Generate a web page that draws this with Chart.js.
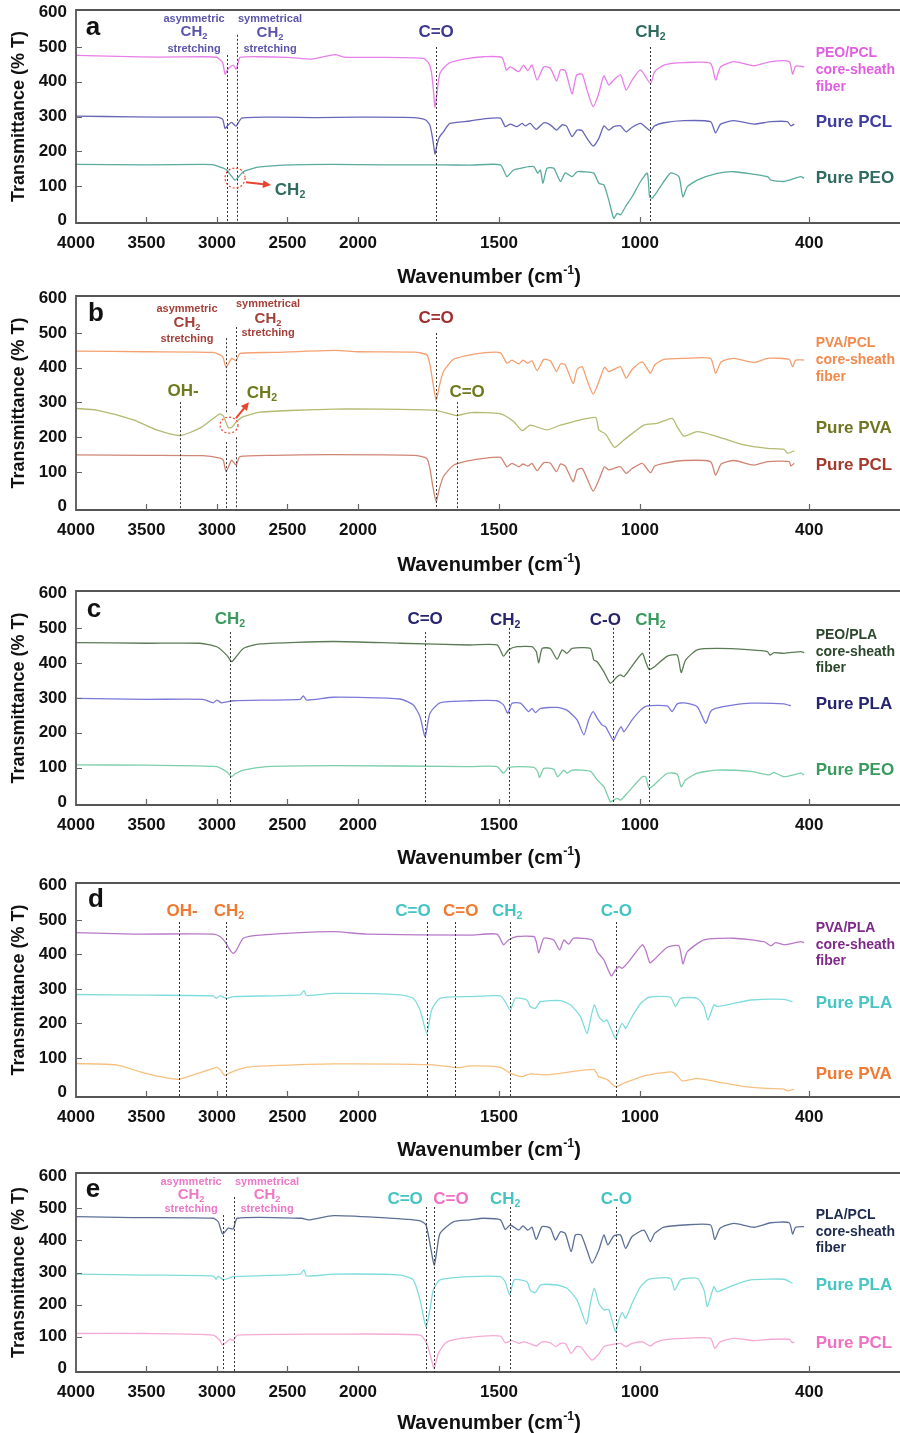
<!DOCTYPE html>
<html lang="en">
<head>
<meta charset="UTF-8" />
<title>FTIR spectra of core-sheath fibers</title>
<script src="https://cdn.jsdelivr.net/npm/chart.js"></script>
<style>
  body { margin: 0; background: #fff; }
  #wrap { position: relative; width: 900px; height: 1433px; }
  #wrap canvas { position: absolute; left: 0; }
</style>
</head>
<body>
<div id="wrap">
  <canvas id="panelA" width="900" height="295" style="top:0px"></canvas>
  <canvas id="panelB" width="900" height="295" style="top:286px"></canvas>
  <canvas id="panelC" width="900" height="295" style="top:581px"></canvas>
  <canvas id="panelD" width="900" height="295" style="top:873px"></canvas>
  <canvas id="panelE" width="900" height="270" style="top:1163px"></canvas>
</div>
<script>
// axis ticks
const xTickValues = [4000, 3500, 3000, 2500, 2000, 1500, 1000, 400];
const yTickValues = [0, 100, 200, 300, 400, 500, 600];

// spectra: [wavenumber (cm-1), transmittance (offset, % T)]
// panel a
const aPeoPcl = [[4000,476],[3700,473],[3400,471],[3100,472],[3000,470],[2960,455],[2943,422],[2920,438],[2884,448],[2865,436],[2850,455],[2837,470],[2700,472],[2500,470],[2330,465],[2290,468],[2163,478],[2100,471],[1900,470],[1800,469],[1768,467],[1750,455],[1740,430],[1733,380],[1727,327],[1721,360],[1715,400],[1709,425],[1697,439],[1674,455],[1620,466],[1555,472],[1490,470],[1474,434],[1460,443],[1430,429],[1413,448],[1398,432],[1383,448],[1365,405],[1341,443],[1318,439],[1296,402],[1282,434],[1265,432],[1241,365],[1225,419],[1205,422],[1188,376],[1166,328],[1146,367],[1128,417],[1111,391],[1093,405],[1069,420],[1049,376],[1028,405],[998,434],[963,395],[948,429],[915,448],[844,455],[750,453],[732,405],[714,443],[667,458],[596,446],[536,458],[471,458],[459,422],[448,445],[418,443]];
const aPcl = [[4000,301],[3600,299],[3200,298],[3000,298],[2960,292],[2943,266],[2920,276],[2896,283],[2865,272],[2825,295],[2600,298],[2300,297],[2000,298],[1800,297],[1760,290],[1745,275],[1735,235],[1727,192],[1721,215],[1712,240],[1697,256],[1674,280],[1603,287],[1555,293],[1495,295],[1478,271],[1460,278],[1436,271],[1418,280],[1407,273],[1389,280],[1368,263],[1341,282],[1318,276],[1296,261],[1276,276],[1261,273],[1241,242],[1223,261],[1205,259],[1188,237],[1166,215],[1146,237],[1128,273],[1111,261],[1093,271],[1069,273],[1049,256],[1028,269],[998,280],[963,259],[948,273],[915,282],[844,288],[750,285],[732,253],[714,278],[667,288],[596,278],[536,285],[477,285],[465,273],[453,278]];
const aPeo = [[4000,162],[3500,161],[3100,162],[3026,161],[2960,152],[2931,146],[2900,130],[2872,117],[2850,125],[2813,141],[2750,150],[2695,155],[2530,160],[2200,162],[1900,161],[1700,161],[1603,160],[1495,161],[1472,127],[1448,146],[1377,156],[1363,137],[1353,146],[1344,108],[1330,151],[1306,151],[1282,113],[1265,138],[1241,127],[1223,141],[1199,141],[1164,137],[1146,108],[1128,103],[1111,60],[1093,7],[1081,21],[1069,17],[1051,41],[1028,69],[998,113],[974,137],[966,69],[957,65],[939,84],[892,137],[862,127],[848,69],[832,98],[797,117],[726,136],[667,141],[548,127],[536,117],[489,113],[471,117],[430,127],[418,122]];

// panel b
const bPvaPcl = [[4000,448],[3500,446],[3026,444],[2960,432],[2936,401],[2896,427],[2865,420],[2837,441],[2600,444],[2163,450],[2000,446],[1800,445],[1756,437],[1745,410],[1735,360],[1723,307],[1712,345],[1697,389],[1660,425],[1603,437],[1555,443],[1495,443],[1472,413],[1454,422],[1430,411],[1415,422],[1398,413],[1383,420],[1365,392],[1341,424],[1318,420],[1296,389],[1282,411],[1265,408],[1237,355],[1223,395],[1205,403],[1188,365],[1166,324],[1146,360],[1126,401],[1111,389],[1093,395],[1069,403],[1049,370],[1028,395],[992,417],[963,384],[948,408],[915,424],[844,427],[750,427],[732,384],[712,417],[667,427],[596,415],[548,427],[471,424],[459,403],[448,422],[418,422]];
const bPva = [[4000,283],[3853,278],[3593,250],[3428,221],[3262,205],[3121,226],[3026,254],[2979,267],[2955,261],[2920,228],[2896,228],[2861,245],[2813,259],[2695,272],[2175,281],[1733,278],[1674,267],[1649,262],[1602,271],[1495,267],[1448,245],[1418,219],[1389,235],[1330,221],[1282,235],[1158,257],[1146,221],[1122,209],[1090,171],[1057,192],[986,235],[939,240],[886,254],[868,230],[844,203],[797,216],[726,202],[631,178],[548,168],[489,165],[477,154],[453,161]];
const bPcl = [[4000,149],[3500,148],[3100,147],[2979,140],[2955,134],[2936,101],[2896,134],[2865,120],[2837,144],[2600,148],[2200,150],[1800,148],[1756,139],[1745,110],[1735,60],[1723,15],[1712,50],[1697,87],[1660,120],[1603,133],[1555,139],[1495,142],[1472,115],[1454,125],[1430,115],[1415,123],[1398,117],[1383,125],[1365,104],[1341,127],[1318,125],[1296,101],[1282,123],[1265,117],[1237,72],[1223,106],[1205,110],[1188,82],[1166,45],[1146,77],[1126,115],[1111,106],[1093,110],[1069,115],[1049,96],[1028,110],[992,125],[963,98],[948,117],[915,125],[844,133],[750,130],[732,91],[712,123],[667,133],[596,120],[548,130],[471,130],[465,117],[453,125]];

// panel c
const cPeoPla = [[4000,459],[3500,457],[3121,457],[3002,447],[2931,423],[2896,404],[2872,414],[2813,442],[2695,455],[2175,462],[1851,457],[1603,452],[1507,452],[1484,420],[1466,438],[1436,447],[1383,447],[1368,433],[1359,401],[1347,442],[1318,442],[1294,411],[1276,438],[1259,428],[1241,442],[1176,442],[1164,409],[1152,404],[1128,375],[1105,342],[1081,361],[1069,366],[1057,361],[1034,385],[992,428],[980,404],[968,382],[951,388],[903,420],[868,423],[854,373],[838,409],[797,438],[726,442],[607,438],[548,433],[539,423],[525,430],[489,428],[430,433],[418,430]];
const cPla = [[4000,299],[3500,296],[3100,296],[3026,286],[3002,294],[2967,286],[2884,292],[2411,296],[2388,306],[2364,294],[2175,302],[1851,297],[1804,280],[1780,246],[1762,189],[1745,256],[1709,286],[1603,292],[1507,292],[1484,280],[1469,256],[1454,285],[1424,285],[1395,261],[1383,270],[1371,258],[1353,270],[1294,273],[1259,265],[1223,237],[1199,194],[1182,237],[1166,261],[1152,242],[1134,222],[1122,218],[1095,179],[1081,199],[1067,218],[1057,203],[1028,237],[998,265],[974,277],[903,277],[886,261],[868,283],[844,286],[797,275],[767,227],[750,261],[732,270],[667,280],[607,285],[489,283],[465,277]];
const cPeo = [[4000,108],[3500,107],[3002,103],[2931,88],[2896,74],[2872,82],[2813,93],[2648,103],[2175,106],[1603,103],[1507,103],[1484,84],[1466,101],[1377,101],[1363,89],[1356,72],[1341,98],[1306,95],[1292,74],[1270,93],[1259,84],[1241,93],[1176,89],[1152,65],[1128,45],[1105,2],[1093,7],[1081,12],[1069,7],[1046,26],[992,74],[980,74],[968,41],[951,50],[903,84],[868,81],[854,45],[838,65],[797,84],[726,93],[607,89],[542,79],[525,86],[489,74],[430,84],[418,79]];

// panel d
const dPvaPla = [[4000,463],[3593,459],[3026,459],[2979,452],[2943,437],[2908,413],[2884,403],[2861,413],[2813,447],[2695,456],[2175,466],[1970,459],[1603,456],[1507,459],[1484,428],[1466,442],[1436,452],[1377,452],[1368,437],[1359,405],[1341,447],[1306,442],[1285,413],[1270,442],[1253,430],[1235,447],[1170,442],[1152,408],[1128,384],[1102,338],[1087,355],[1075,365],[1063,360],[1040,379],[992,428],[980,413],[965,376],[951,384],[903,421],[862,425],[848,373],[832,408],[773,442],[667,447],[560,437],[536,425],[519,434],[489,428],[430,437],[418,434]];
const dPla = [[4000,284],[3500,282],[3026,280],[3002,273],[2979,280],[2931,273],[2884,278],[2411,283],[2383,295],[2364,281],[2175,287],[1851,283],[1804,273],[1780,239],[1756,171],[1739,239],[1709,273],[1603,278],[1495,280],[1478,263],[1460,239],[1442,273],[1401,268],[1389,249],[1371,244],[1353,263],[1282,266],[1247,254],[1211,220],[1188,171],[1176,210],[1162,254],[1146,220],[1128,205],[1117,210],[1087,157],[1075,181],[1063,200],[1051,186],[1028,220],[998,258],[968,276],[892,276],[874,249],[856,273],[797,273],[773,249],[759,210],[738,254],[726,249],[667,258],[607,268],[489,270],[459,263]];
const dPva = [[4000,84],[3712,80],[3546,60],[3404,46],[3274,38],[3168,51],[3026,70],[3002,73],[2979,67],[2943,49],[2908,57],[2861,65],[2790,73],[2648,77],[2175,83],[1733,80],[1662,73],[1638,72],[1603,77],[1495,73],[1460,56],[1418,46],[1389,54],[1330,51],[1164,67],[1146,46],[1117,38],[1087,17],[1057,27],[986,48],[892,60],[874,54],[850,34],[797,41],[726,31],[631,17],[548,12],[489,10],[477,5],[453,10]];

// panel e
const ePlaPcl = [[4000,474],[3593,471],[3026,469],[2991,458],[2960,420],[2920,438],[2884,436],[2856,469],[2400,469],[2341,464],[2175,477],[1900,470],[1780,461],[1759,448],[1745,391],[1730,323],[1720,370],[1709,422],[1662,458],[1603,464],[1555,469],[1495,464],[1478,434],[1460,448],[1430,432],[1415,445],[1398,432],[1383,441],[1368,403],[1347,443],[1318,438],[1300,401],[1282,427],[1265,422],[1244,365],[1229,417],[1209,417],[1188,370],[1170,329],[1146,370],[1128,417],[1114,386],[1093,414],[1069,417],[1051,375],[1028,412],[986,432],[963,396],[948,422],[915,441],[844,448],[750,448],[735,403],[716,438],[667,453],[596,441],[536,455],[471,455],[459,420],[448,441],[418,443]];
const ePla = [[4000,295],[3500,292],[3026,289],[3007,279],[2991,289],[2955,277],[2884,287],[2411,295],[2383,308],[2364,289],[2175,295],[1851,292],[1804,277],[1780,214],[1759,131],[1745,183],[1733,245],[1709,277],[1603,287],[1495,287],[1478,271],[1462,230],[1446,277],[1401,271],[1389,245],[1371,237],[1353,261],[1294,261],[1259,251],[1223,214],[1190,140],[1176,204],[1162,251],[1146,204],[1128,183],[1111,185],[1087,116],[1075,152],[1063,175],[1051,157],[1028,204],[998,256],[968,279],[892,282],[877,245],[856,277],[797,282],[773,245],[761,194],[738,256],[726,240],[667,261],[607,277],[489,279],[459,266]];
const ePcl = [[4000,110],[3500,110],[3026,105],[2979,88],[2960,74],[2908,92],[2884,88],[2856,105],[2175,108],[1780,105],[1756,79],[1739,27],[1730,1],[1715,48],[1685,84],[1603,98],[1495,102],[1478,81],[1454,88],[1430,79],[1415,84],[1398,81],[1368,71],[1347,84],[1318,81],[1300,69],[1282,79],[1265,79],[1244,48],[1225,69],[1209,67],[1188,43],[1170,27],[1146,46],[1128,69],[1111,74],[1069,79],[1051,69],[1028,79],[992,84],[963,71],[948,81],[915,90],[844,95],[750,95],[735,64],[716,84],[667,95],[596,88],[536,92],[471,92],[459,81],[453,84]];

const FONT = '"Liberation Sans", Arial, Helvetica, sans-serif';
Chart.defaults.font.family = FONT;

// wavenumber axis, expanded 2x below 2000 cm-1
const BREAK_WN = 2000;
const EXPAND = 2;
const X_MIN = 78;

class BrokenWaveScale extends Chart.LinearScale {
  _pos(v) {
    return v >= BREAK_WN ? this.max - v : (this.max - BREAK_WN) + EXPAND * (BREAK_WN - v);
  }
  getPixelForValue(v) {
    return this.left + this.width * this._pos(v) / this._pos(this.min);
  }
  getValueForPixel(px) {
    const u = (px - this.left) / this.width * this._pos(this.min);
    const upper = this.max - BREAK_WN;
    return u <= upper ? this.max - u : BREAK_WN - (u - upper) / EXPAND;
  }
}
BrokenWaveScale.id = 'brokenWave';
BrokenWaveScale.defaults = Chart.LinearScale.defaults;
Chart.register(BrokenWaveScale);

// text with _x subscript and ^{..} superscript
function drawRich(ctx, text, x, y, size, color, align) {
  const segs = [];
  let buf = '', i = 0;
  while (i < text.length) {
    const c = text[i];
    if (c === '_') {
      if (buf) segs.push({ t: buf, k: 0 });
      buf = '';
      segs.push({ t: text[i + 1], k: -1 });
      i += 2;
      continue;
    }
    if (c === '^' && text[i + 1] === '{') {
      if (buf) segs.push({ t: buf, k: 0 });
      buf = '';
      const j = text.indexOf('}', i);
      segs.push({ t: text.slice(i + 2, j), k: 1 });
      i = j + 1;
      continue;
    }
    buf += c;
    i++;
  }
  if (buf) segs.push({ t: buf, k: 0 });
  let w = 0;
  segs.forEach(s => {
    s.fs = s.k ? size * 0.62 : size;
    ctx.font = `bold ${s.fs}px ${FONT}`;
    s.w = ctx.measureText(s.t).width;
    w += s.w;
  });
  let cx = align === 'left' ? x : align === 'right' ? x - w : x - w / 2;
  ctx.fillStyle = color;
  ctx.textAlign = 'left';
  ctx.textBaseline = 'middle';
  segs.forEach(s => {
    ctx.font = `bold ${s.fs}px ${FONT}`;
    const dy = s.k === -1 ? size * 0.3 : s.k === 1 ? -size * 0.32 : 0;
    ctx.fillText(s.t, cx, y + dy);
    cx += s.w;
  });
}

function annotPlugin(p) {
  return {
    id: 'annot' + p.canvas,
    afterDraw(chart) {
      const ctx = chart.ctx, xs = chart.scales.x, ys = chart.scales.y, area = chart.chartArea;
      ctx.save();
      // frame
      ctx.strokeStyle = '#555';
      ctx.lineWidth = 1.8;
      ctx.beginPath();
      ctx.moveTo(area.right, area.top);
      ctx.lineTo(area.left, area.top);
      ctx.lineTo(area.left, area.bottom);
      ctx.lineTo(area.right, area.bottom);
      ctx.stroke();
      // inward tick marks
      ctx.lineWidth = 1.2;
      ctx.strokeStyle = '#666';
      ctx.beginPath();
      xTickValues.slice(1).forEach(v => {
        const x = Math.round(xs.getPixelForValue(v)) + 0.5;
        ctx.moveTo(x, area.bottom);
        ctx.lineTo(x, area.bottom - 6);
      });
      yTickValues.slice(1, -1).forEach(v => {
        const y = Math.round(ys.getPixelForValue(v)) + 0.5;
        ctx.moveTo(area.left, y);
        ctx.lineTo(area.left + 6, y);
      });
      ctx.stroke();
      // dotted marker lines
      ctx.setLineDash([2, 2]);
      ctx.lineWidth = 1;
      ctx.strokeStyle = '#333';
      p.marks.forEach(m => {
        const x = Math.round(xs.getPixelForValue(m.wn)) + 0.5;
        ctx.beginPath();
        ctx.moveTo(x, ys.getPixelForValue(m.from));
        ctx.lineTo(x, m.to == null ? area.bottom : ys.getPixelForValue(m.to));
        ctx.stroke();
      });
      // red circles
      ctx.strokeStyle = '#e8452f';
      ctx.lineWidth = 1.2;
      (p.circles || []).forEach(c => {
        ctx.beginPath();
        ctx.ellipse(xs.getPixelForValue(c.wn), ys.getPixelForValue(c.t), c.rx, c.ry, 0, 0, Math.PI * 2);
        ctx.stroke();
      });
      ctx.setLineDash([]);
      // red arrows
      (p.arrows || []).forEach(a => {
        const x0 = xs.getPixelForValue(a.from[0]), y0 = ys.getPixelForValue(a.from[1]);
        const x1 = xs.getPixelForValue(a.to[0]), y1 = ys.getPixelForValue(a.to[1]);
        const ang = Math.atan2(y1 - y0, x1 - x0);
        ctx.strokeStyle = '#e8452f';
        ctx.fillStyle = '#e8452f';
        ctx.lineWidth = 2;
        ctx.beginPath();
        ctx.moveTo(x0, y0);
        ctx.lineTo(x1 - 5 * Math.cos(ang), y1 - 5 * Math.sin(ang));
        ctx.stroke();
        ctx.beginPath();
        ctx.moveTo(x1, y1);
        ctx.lineTo(x1 - 9 * Math.cos(ang - 0.45), y1 - 9 * Math.sin(ang - 0.45));
        ctx.lineTo(x1 - 9 * Math.cos(ang + 0.45), y1 - 9 * Math.sin(ang + 0.45));
        ctx.closePath();
        ctx.fill();
      });
      // texts
      p.texts.forEach(t => {
        drawRich(ctx, t.text, xs.getPixelForValue(t.wn), ys.getPixelForValue(t.t), t.size, t.color, t.align || 'center');
      });
      // x axis title
      drawRich(ctx, 'Wavenumber (cm^{-1})', 489, area.bottom + p.titleGap, 20, '#111', 'center');
      ctx.restore();
    }
  };
}

function makePanel(p) {
  const canvas = document.getElementById(p.canvas);
  const bottomSpace = canvas.height - 10 - p.plotH;
  new Chart(canvas, {
    type: 'line',
    data: {
      datasets: p.series.map(s => ({
        data: s.points.map(pt => ({ x: pt[0], y: pt[1] })),
        borderColor: s.color,
        borderWidth: 1.3,
        pointRadius: 0,
        tension: 0.2,
        fill: false
      }))
    },
    options: {
      responsive: false,
      animation: false,
      events: [],
      layout: { padding: { top: 10, left: 0, right: 0, bottom: 0 } },
      plugins: { legend: { display: false }, tooltip: { enabled: false } },
      scales: {
        x: {
          type: 'brokenWave',
          min: X_MIN,
          max: 4000,
          grid: { display: false, drawTicks: false },
          border: { display: false },
          afterBuildTicks: s => { s.ticks = xTickValues.map(v => ({ value: v })); },
          afterFit: s => { s.height = bottomSpace; s.paddingLeft = 0; s.paddingRight = 0; },
          ticks: {
            autoSkip: false, maxRotation: 0, padding: 10, color: '#111',
            font: { size: 17, weight: 'bold' },
            callback: v => String(v)
          }
        },
        y: {
          min: p.yMin,
          max: p.yMax,
          grid: { display: false, drawTicks: false },
          border: { display: false },
          afterBuildTicks: s => { s.ticks = yTickValues.map(v => ({ value: v })); },
          afterFit: s => { s.width = 76; s.paddingTop = 0; s.paddingBottom = 0; },
          ticks: { padding: 9, color: '#111', font: { size: 17, weight: 'bold' } },
          title: {
            display: true, text: 'Transmittance (% T)', color: '#111',
            padding: { top: 8, bottom: 0 },
            font: { size: 18, weight: 'bold' }
          }
        }
      }
    },
    plugins: [annotPlugin(p)]
  });
}

const R = 377; // left edge of the right-hand sample labels
const panels = [
  {
    canvas: 'panelA', plotH: 213, yMin: -6.5, yMax: 606.5, titleGap: 54,
    series: [
      { points: aPeoPcl, color: '#e87ee8' },
      { points: aPcl, color: '#6767b9' },
      { points: aPeo, color: '#5aab9e' }
    ],
    marks: [{ wn: 2929, from: 477 }, { wn: 2858, from: 535 }, { wn: 1723, from: 500 }, { wn: 963, from: 500 }],
    circles: [{ wn: 2872, t: 123, rx: 10, ry: 10 }],
    arrows: [{ from: [2794, 111], to: [2617, 103] }],
    texts: [
      { wn: 3879, t: 556, text: 'a', color: '#111', size: 26 },
      { wn: 3163, t: 580, text: 'asymmetric', color: '#5a55aa', size: 11 },
      { wn: 3163, t: 543, text: 'CH_2', color: '#5a55aa', size: 15 },
      { wn: 3163, t: 494, text: 'stretching', color: '#5a55aa', size: 11 },
      { wn: 2624, t: 580, text: 'symmetrical', color: '#5a55aa', size: 11 },
      { wn: 2624, t: 540, text: 'CH_2', color: '#5a55aa', size: 15 },
      { wn: 2624, t: 494, text: 'stretching', color: '#5a55aa', size: 11 },
      { wn: 1723, t: 543, text: 'C=O', color: '#3d3a8e', size: 17 },
      { wn: 963, t: 543, text: 'CH_2', color: '#2f6b60', size: 17 },
      { wn: 2482, t: 88, text: 'CH_2', color: '#2f6b60', size: 17 },
      { wn: R, t: 483, text: 'PEO/PCL', color: '#e15fe0', size: 14, align: 'left' },
      { wn: R, t: 434, text: 'core-sheath', color: '#e15fe0', size: 14, align: 'left' },
      { wn: R, t: 385, text: 'fiber', color: '#e15fe0', size: 14, align: 'left' },
      { wn: R, t: 284, text: 'Pure PCL', color: '#3e3c9c', size: 17, align: 'left' },
      { wn: R, t: 123, text: 'Pure PEO', color: '#2f6b60', size: 17, align: 'left' }
    ]
  },
  {
    canvas: 'panelB', plotH: 214, yMin: -9.4, yMax: 606.4, titleGap: 55,
    series: [
      { points: bPvaPcl, color: '#f4a070' },
      { points: bPva, color: '#b4ba70' },
      { points: bPcl, color: '#d08575' }
    ],
    marks: [
      { wn: 2936, from: 485, to: 272 }, { wn: 2936, from: 186 },
      { wn: 2865, from: 517, to: 287 }, { wn: 2865, from: 200 },
      { wn: 1723, from: 500 }, { wn: 3262, from: 301 }, { wn: 1648, from: 301 }
    ],
    circles: [{ wn: 2915, t: 235, rx: 9, ry: 8 }],
    arrows: [{ from: [2865, 255], to: [2773, 301] }],
    texts: [
      { wn: 3858, t: 555, text: 'b', color: '#111', size: 26 },
      { wn: 3213, t: 568, text: 'asymmetric', color: '#a3403a', size: 11 },
      { wn: 3213, t: 528, text: 'CH_2', color: '#a3403a', size: 15 },
      { wn: 3213, t: 482, text: 'stretching', color: '#a3403a', size: 11 },
      { wn: 2638, t: 583, text: 'symmetrical', color: '#a3403a', size: 11 },
      { wn: 2638, t: 540, text: 'CH_2', color: '#a3403a', size: 15 },
      { wn: 2638, t: 500, text: 'stretching', color: '#a3403a', size: 11 },
      { wn: 1723, t: 543, text: 'C=O', color: '#a03030', size: 17 },
      { wn: 3241, t: 333, text: 'OH-', color: '#6f7a1e', size: 17 },
      { wn: 2681, t: 327, text: 'CH_2', color: '#6f7a1e', size: 17 },
      { wn: 1613, t: 330, text: 'C=O', color: '#6f7a1e', size: 17 },
      { wn: R, t: 470, text: 'PVA/PCL', color: '#f28a4e', size: 14, align: 'left' },
      { wn: R, t: 422, text: 'core-sheath', color: '#f28a4e', size: 14, align: 'left' },
      { wn: R, t: 373, text: 'fiber', color: '#f28a4e', size: 14, align: 'left' },
      { wn: R, t: 226, text: 'Pure PVA', color: '#6f7520', size: 17, align: 'left' },
      { wn: R, t: 120, text: 'Pure PCL', color: '#a33a2e', size: 17, align: 'left' }
    ]
  },
  {
    canvas: 'panelC', plotH: 214, yMin: -7.2, yMax: 606.9, titleGap: 53,
    series: [
      { points: cPeoPla, color: '#5b7b55' },
      { points: cPla, color: '#7a78d8' },
      { points: cPeo, color: '#7ccfa8' }
    ],
    marks: [{ wn: 2908, from: 489 }, { wn: 1762, from: 489 }, { wn: 1464, from: 501 }, { wn: 1094, from: 501 }, { wn: 967, from: 501 }],
    texts: [
      { wn: 3872, t: 554, text: 'c', color: '#111', size: 26 },
      { wn: 2908, t: 527, text: 'CH_2', color: '#3a9a5e', size: 17 },
      { wn: 1762, t: 527, text: 'C=O', color: '#26256e', size: 17 },
      { wn: 1478, t: 524, text: 'CH_2', color: '#26256e', size: 17 },
      { wn: 1123, t: 524, text: 'C-O', color: '#26256e', size: 17 },
      { wn: 963, t: 524, text: 'CH_2', color: '#3a9a5e', size: 17 },
      { wn: R, t: 481, text: 'PEO/PLA', color: '#2c472c', size: 14, align: 'left' },
      { wn: R, t: 432, text: 'core-sheath', color: '#2c472c', size: 14, align: 'left' },
      { wn: R, t: 386, text: 'fiber', color: '#2c472c', size: 14, align: 'left' },
      { wn: R, t: 283, text: 'Pure PLA', color: '#25246e', size: 17, align: 'left' },
      { wn: R, t: 93, text: 'Pure PEO', color: '#3a9a5e', size: 17, align: 'left' }
    ]
  },
  {
    canvas: 'panelD', plotH: 214, yMin: -13, yMax: 607, titleGap: 53,
    series: [
      { points: dPvaPla, color: '#b778c8' },
      { points: dPla, color: '#80dcdc' },
      { points: dPva, color: '#f7bf80' }
    ],
    marks: [{ wn: 3270, from: 494 }, { wn: 2936, from: 494 }, { wn: 1755, from: 494 }, { wn: 1655, from: 494 }, { wn: 1460, from: 494 }, { wn: 1084, from: 494 }],
    texts: [
      { wn: 3858, t: 559, text: 'd', color: '#111', size: 26 },
      { wn: 3248, t: 526, text: 'OH-', color: '#f07a32', size: 17 },
      { wn: 2915, t: 526, text: 'CH_2', color: '#f07a32', size: 17 },
      { wn: 1805, t: 526, text: 'C=O', color: '#45c4c4', size: 17 },
      { wn: 1636, t: 526, text: 'C=O', color: '#f07a32', size: 17 },
      { wn: 1471, t: 526, text: 'CH_2', color: '#45c4c4', size: 17 },
      { wn: 1084, t: 526, text: 'C-O', color: '#45c4c4', size: 17 },
      { wn: R, t: 477, text: 'PVA/PLA', color: '#7d2a88', size: 14, align: 'left' },
      { wn: R, t: 428, text: 'core-sheath', color: '#7d2a88', size: 14, align: 'left' },
      { wn: R, t: 381, text: 'fiber', color: '#7d2a88', size: 14, align: 'left' },
      { wn: R, t: 259, text: 'Pure PLA', color: '#48c4c4', size: 17, align: 'left' },
      { wn: R, t: 54, text: 'Pure PVA', color: '#f07a32', size: 17, align: 'left' }
    ]
  },
  {
    canvas: 'panelE', plotH: 199, yMin: -10, yMax: 610, titleGap: 51,
    series: [
      { points: ePlaPcl, color: '#5c7095' },
      { points: ePla, color: '#80dcdc' },
      { points: ePcl, color: '#f5a9d6' }
    ],
    marks: [{ wn: 2957, from: 479 }, { wn: 2879, from: 535 }, { wn: 1758, from: 504 }, { wn: 1730, from: 504 }, { wn: 1460, from: 504 }, { wn: 1084, from: 504 }],
    texts: [
      { wn: 3879, t: 557, text: 'e', color: '#111', size: 26 },
      { wn: 3184, t: 581, text: 'asymmetric', color: '#ee78c8', size: 11 },
      { wn: 3184, t: 541, text: 'CH_2', color: '#ee78c8', size: 15 },
      { wn: 3184, t: 497, text: 'stretching', color: '#ee78c8', size: 11 },
      { wn: 2645, t: 581, text: 'symmetrical', color: '#ee78c8', size: 11 },
      { wn: 2645, t: 541, text: 'CH_2', color: '#ee78c8', size: 15 },
      { wn: 2645, t: 497, text: 'stretching', color: '#ee78c8', size: 11 },
      { wn: 1833, t: 529, text: 'C=O', color: '#45c4c4', size: 17 },
      { wn: 1670, t: 529, text: 'C=O', color: '#ee72c2', size: 17 },
      { wn: 1478, t: 529, text: 'CH_2', color: '#45c4c4', size: 17 },
      { wn: 1084, t: 529, text: 'C-O', color: '#45c4c4', size: 17 },
      { wn: R, t: 479, text: 'PLA/PCL', color: '#1e2b4e', size: 14, align: 'left' },
      { wn: R, t: 426, text: 'core-sheath', color: '#1e2b4e', size: 14, align: 'left' },
      { wn: R, t: 376, text: 'fiber', color: '#1e2b4e', size: 14, align: 'left' },
      { wn: R, t: 261, text: 'Pure PLA', color: '#48c4c4', size: 17, align: 'left' },
      { wn: R, t: 80, text: 'Pure PCL', color: '#ee72c2', size: 17, align: 'left' }
    ]
  }
];

panels.forEach(makePanel);
</script>
</body>
</html>
